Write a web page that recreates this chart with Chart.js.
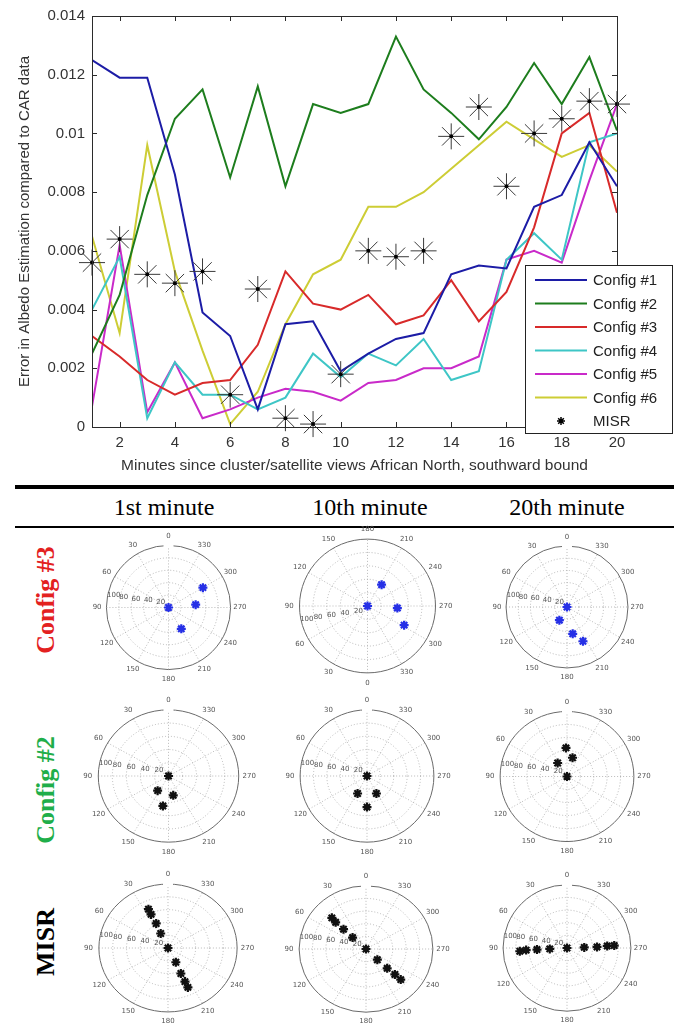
<!DOCTYPE html>
<html>
<head>
<meta charset="utf-8">
<script src="https://cdn.jsdelivr.net/npm/chart.js@4.4.0/dist/chart.umd.min.js"></script>
<style>
  body { margin: 0; background: #fff; }
  #page { position: relative; width: 674px; height: 1025px; overflow: hidden; background: #fff; }
  #errChart { position: absolute; left: 0; top: 0; }
  .rule { position: absolute; left: 15px; width: 659px; background: #000; }
  .head {
    position: absolute; top: 494px; line-height: 26px;
    font-family: "Liberation Serif", "Times New Roman", serif; font-size: 24px; color: #000;
    transform: translateX(-50%); white-space: nowrap;
  }
  .rowlab {
    position: absolute; white-space: nowrap;
    font-family: "Liberation Serif", "Times New Roman", serif; font-weight: bold; font-size: 26px;
    transform: translate(-50%, -50%) rotate(-90deg);
  }
  .polar { position: absolute; }
</style>
</head>
<body>
<div id="page">
  <canvas id="errChart" width="674" height="480"></canvas>

  <div class="rule" style="top:485px;height:4px"></div>
  <div class="head" style="left:164px">1st minute</div>
  <div class="head" style="left:370px">10th minute</div>
  <div class="head" style="left:567px">20th minute</div>
  <div class="rule" style="top:526px;height:2px"></div>

  <div class="rowlab" style="left:46px;top:600px;color:#e3211f">Config #3</div>
  <div class="rowlab" style="left:46px;top:790px;color:#1fae4a">Config #2</div>
  <div class="rowlab" style="left:46px;top:942px;color:#000">MISR</div>
</div>

<script>
// --- albedo error per minute ---
const minutes = [1, 2, 3, 4, 5, 6, 7, 8, 9, 10, 11, 12, 13, 14, 15, 16, 17, 18, 19, 20];
const config1 = [0.0125, 0.0119, 0.0119, 0.0086, 0.0039, 0.0031, 0.0006, 0.0035, 0.0036, 0.0019,
                 0.0025, 0.0030, 0.0032, 0.0052, 0.0055, 0.0054, 0.0075, 0.0079, 0.0097, 0.0082];
const config2 = [0.0025, 0.0045, 0.0079, 0.0105, 0.0115, 0.0085, 0.0116, 0.0082, 0.0110, 0.0107,
                 0.0110, 0.0133, 0.0115, 0.0107, 0.0098, 0.0109, 0.0124, 0.0110, 0.0126, 0.0101];
const config3 = [0.0031, 0.0024, 0.0016, 0.0011, 0.0015, 0.0016, 0.0028, 0.0053, 0.0042, 0.0040,
                 0.0045, 0.0035, 0.0038, 0.0050, 0.0036, 0.0046, 0.0068, 0.0100, 0.0107, 0.0073];
const config4 = [0.0040, 0.0058, 0.0003, 0.0022, 0.0011, 0.0011, 0.0006, 0.0010, 0.0025, 0.0017,
                 0.0025, 0.0021, 0.0030, 0.0016, 0.0019, 0.0057, 0.0066, 0.0057, 0.0097, 0.0100];
const config5 = [0.0007, 0.0062, 0.0005, 0.0022, 0.0003, 0.0006, 0.0010, 0.0013, 0.0012, 0.0009,
                 0.0015, 0.0016, 0.0020, 0.0020, 0.0024, 0.0057, 0.0060, 0.0056, 0.0084, 0.0110];
const config6 = [0.0065, 0.0032, 0.0096, 0.0053, 0.0026, 0.0001, 0.0012, 0.0035, 0.0052, 0.0057,
                 0.0075, 0.0075, 0.0080, 0.0088, 0.0096, 0.0104, 0.0098, 0.0092, 0.0096, 0.0087];
const misr    = [0.0056, 0.0064, 0.0052, 0.0049, 0.0053, 0.0011, 0.0047, 0.0003, 0.0001, 0.0018,
                 0.0060, 0.0058, 0.0060, 0.0099, 0.0109, 0.0082, 0.0100, 0.0105, 0.0111, 0.0110];

const seriesNames = ["Config #1", "Config #2", "Config #3", "Config #4", "Config #5", "Config #6"];
const seriesColors = ["#1c1ca6", "#1d7d1d", "#d82a2a", "#3ec6c6", "#c92ac9", "#cdcd35"];
const xTicks = [2, 4, 6, 8, 10, 12, 14, 16, 18, 20];
const yTicks = [0, 0.002, 0.004, 0.006, 0.008, 0.01, 0.012, 0.014];
const yTickLabels = ["0", "0.002", "0.004", "0.006", "0.008", "0.01", "0.012", "0.014"];

// --- view geometry: zenith (deg) and azimuth (deg) per camera ---
const c3m1Zen = [0, 64, 44, 40];          const c3m1Az = [0, 300, 276, 211];
const c3m10Zen = [0, 38, 44, 61];         const c3m10Az = [0, 213, 274, 298];
const c3m20Zen = [0, 25, 45, 62];         const c3m20Az = [0, 150, 192, 205];
const c2m1Zen = [0, 27, 30, 46];          const c2m1Az = [0, 145, 193, 170];
const c2m10Zen = [0, 30, 30, 47];         const c2m10Az = [0, 152, 208, 180];
const c2m20Zen = [0, 25, 44, 30];         const c2m20Az = [0, 34, 2, 344];
const misrM1Zen = [0, 25, 42, 58, 67, 25, 44, 58, 68];
const misrM1Az = [0, 25, 24, 25, 25, 207, 205, 205, 205];
const misrM10Zen = [0, 27, 46, 62, 71, 24, 44, 59, 71];
const misrM10Az = [0, 48, 47, 47, 46, 225, 226, 227, 227];
const misrM20Zen = [0, 27, 47, 64, 74, 27, 47, 63, 74];
const misrM20Az = [0, 93, 93, 93, 94, 272, 272, 273, 273];

const ringValues = [20, 40, 60, 80];
const radialLabels = ["20", "40", "60", "80", "100"];
const spokeAngles = [0, 30, 60, 90, 120, 150];
const angleLabels = ["0", "30", "60", "90", "120", "150", "180", "210", "240", "270", "300", "330"];

// --- main chart: frame with inward ticks ---
const matlabBox = {
  id: "matlabBox",
  afterDatasetsDraw(chart) {
    const { ctx, chartArea: a, scales: { x, y } } = chart;
    ctx.save();
    ctx.strokeStyle = "#2b2b2b";
    ctx.lineWidth = 1;
    ctx.strokeRect(a.left + 0.5, a.top + 0.5, a.right - a.left, a.bottom - a.top);
    ctx.beginPath();
    xTicks.forEach((v) => {
      const px = Math.round(x.getPixelForValue(v)) + 0.5;
      ctx.moveTo(px, a.bottom); ctx.lineTo(px, a.bottom - 5);
      ctx.moveTo(px, a.top); ctx.lineTo(px, a.top + 5);
    });
    yTicks.forEach((v) => {
      const py = Math.round(y.getPixelForValue(v)) + 0.5;
      ctx.moveTo(a.left, py); ctx.lineTo(a.left + 5, py);
      ctx.moveTo(a.right, py); ctx.lineTo(a.right - 5, py);
    });
    ctx.stroke();
    ctx.restore();
  },
};

// legend box sitting over the lower right corner
const legendBox = { left: 525, top: 265, width: 147, height: 168, rowStep: 23.5 };
const boxLegend = {
  id: "boxLegend",
  afterDraw(chart) {
    const { ctx } = chart;
    const b = legendBox;
    ctx.save();
    ctx.fillStyle = "#fff";
    ctx.fillRect(b.left, b.top, b.width, b.height);
    ctx.strokeStyle = "#222";
    ctx.lineWidth = 1;
    ctx.strokeRect(b.left + 0.5, b.top + 0.5, b.width, b.height);
    ctx.font = '15px "Liberation Sans", Arial, sans-serif';
    ctx.textBaseline = "middle";
    ctx.fillStyle = "#222";
    const items = chart.data.datasets.filter((d) => !d.legendSkip);
    items.forEach((d, i) => {
      const yy = b.top + 15 + i * b.rowStep;
      if (d.showLine === false) {
        ctx.strokeStyle = "#000";
        ctx.lineWidth = 1.5;
        Chart.helpers.drawPoint(ctx, { pointStyle: "star", radius: 4, borderWidth: 1.5 }, b.left + 36, yy);
      } else {
        ctx.strokeStyle = d.borderColor;
        ctx.lineWidth = 2;
        ctx.beginPath();
        ctx.moveTo(b.left + 10, yy);
        ctx.lineTo(b.left + 62, yy);
        ctx.stroke();
      }
      ctx.fillText(d.label, b.left + 68, yy + 1);
    });
    ctx.restore();
  },
};

const toPoints = (arr) => minutes.map((m, i) => ({ x: m, y: arr[i] }));
const configSeries = [config1, config2, config3, config4, config5, config6];

const lineSets = configSeries.map((arr, i) => ({
  label: seriesNames[i],
  data: toPoints(arr),
  borderColor: seriesColors[i],
  backgroundColor: seriesColors[i],
  borderWidth: 2,
  pointRadius: 0,
  tension: 0,
  order: 2,
}));

const axisFont = { family: '"Liberation Sans", Arial, sans-serif', size: 15 };

new Chart(document.getElementById("errChart"), {
  type: "line",
  data: {
    datasets: [
      ...lineSets,
      {
        label: "MISR",
        data: toPoints(misr),
        showLine: false,
        pointStyle: "star",
        pointRadius: 13,
        pointBorderColor: "#3a3a3a",
        pointBorderWidth: 1,
        clip: false,
        order: 1,
      },
      {
        label: "MISR centre",
        legendSkip: true,
        data: toPoints(misr),
        showLine: false,
        pointStyle: "circle",
        pointRadius: 2,
        pointBackgroundColor: "#000",
        pointBorderColor: "#000",
        pointBorderWidth: 0,
        clip: false,
        order: 0,
      },
    ],
  },
  options: {
    responsive: false,
    animation: false,
    layout: { padding: { left: 0, right: 57, top: 15, bottom: 0 } },
    plugins: { legend: { display: false }, tooltip: { enabled: false } },
    scales: {
      x: {
        type: "linear",
        min: 1,
        max: 20,
        afterBuildTicks: (s) => { s.ticks = xTicks.map((v) => ({ value: v })); },
        afterFit: (s) => { s.height = 53; },
        grid: { display: false, drawTicks: false },
        border: { display: false },
        ticks: { font: axisFont, color: "#333", padding: 7, maxRotation: 0 },
        title: {
          display: true,
          text: "Minutes since cluster/satellite views African North, southward bound",
          font: { family: axisFont.family, size: 15.5 },
          color: "#333",
          padding: { top: 0, bottom: 5 },
        },
      },
      y: {
        min: 0,
        max: 0.014,
        afterBuildTicks: (s) => { s.ticks = yTicks.map((v) => ({ value: v })); },
        afterFit: (s) => { s.width = 92; },
        grid: { display: false, drawTicks: false },
        border: { display: false },
        ticks: { font: axisFont, color: "#333", padding: 7, callback: (v, i) => yTickLabels[i] },
        title: {
          display: true,
          text: "Error in Albedo Estimation compared to CAR data",
          font: axisFont,
          color: "#333",
          padding: { top: 16, bottom: 0 },
        },
      },
    },
  },
  plugins: [matlabBox, boxLegend],
});

// --- polar view panels ---
const polarGrid = {
  id: "polarGrid",
  beforeDatasetsDraw(chart, args, opts) {
    const { ctx } = chart;
    const xs = chart.scales.x, ys = chart.scales.y;
    const cx = xs.getPixelForValue(0), cy = ys.getPixelForValue(0);
    const kx = (xs.getPixelForValue(100) - cx) / 100;
    const ky = (cy - ys.getPixelForValue(100)) / 100;
    const flip = opts.flip ? -1 : 1;
    const at = (r, deg) => {
      const a = (deg * Math.PI) / 180;
      return [cx - r * Math.sin(a) * kx, cy - flip * r * Math.cos(a) * ky];
    };
    ctx.save();
    ctx.strokeStyle = "#a8a8a8";
    ctx.lineWidth = 0.8;
    ctx.setLineDash([1, 2]);
    ringValues.forEach((r) => {
      ctx.beginPath();
      ctx.ellipse(cx, cy, r * kx, r * ky, 0, 0, Math.PI * 2);
      ctx.stroke();
    });
    spokeAngles.forEach((d) => {
      const [x1, y1] = at(100, d);
      const [x2, y2] = at(100, d + 180);
      ctx.beginPath();
      ctx.moveTo(x1, y1);
      ctx.lineTo(x2, y2);
      ctx.stroke();
    });
    ctx.setLineDash([]);
    ctx.strokeStyle = "#6a6a6a";
    ctx.lineWidth = 1;
    ctx.beginPath();
    ctx.ellipse(cx, cy, 100 * kx, 100 * ky, 0, 0, Math.PI * 2);
    ctx.stroke();
    if (!opts.flip) {
      // the "0" label cuts the outer ring
      ctx.fillStyle = "#fff";
      ctx.fillRect(cx - 5, cy - 100 * ky - 2, 10, 4);
    }
    ctx.fillStyle = "#555";
    ctx.font = '7px "DejaVu Sans", sans-serif';
    ctx.textAlign = "center";
    ctx.textBaseline = "middle";
    angleLabels.forEach((t, i) => {
      const [lx, ly] = at(115, i * 30);
      ctx.fillText(t, lx, ly);
    });
    ctx.textAlign = "left";
    ctx.textBaseline = opts.flip ? "top" : "bottom";
    radialLabels.forEach((t, i) => {
      const [lx, ly] = at((i + 1) * 20, 82);
      ctx.fillText(t, lx, ly);
    });
    ctx.restore();
  },
};

const panels = [
  { zen: c3m1Zen, az: c3m1Az, color: "#2630e6", cx: 168, cy: 607, rx: 67, ry: 67 },
  { zen: c3m10Zen, az: c3m10Az, color: "#2630e6", cx: 367, cy: 606, rx: 73, ry: 72, flip: true },
  { zen: c3m20Zen, az: c3m20Az, color: "#2630e6", cx: 567, cy: 607, rx: 66, ry: 66 },
  { zen: c2m1Zen, az: c2m1Az, color: "#111", cx: 168, cy: 776, rx: 75, ry: 71 },
  { zen: c2m10Zen, az: c2m10Az, color: "#111", cx: 367, cy: 776, rx: 72, ry: 71 },
  { zen: c2m20Zen, az: c2m20Az, color: "#111", cx: 567, cy: 776, rx: 72, ry: 70 },
  { zen: misrM1Zen, az: misrM1Az, color: "#111", cx: 168, cy: 948, rx: 74, ry: 69 },
  { zen: misrM10Zen, az: misrM10Az, color: "#111", cx: 366, cy: 949, rx: 72, ry: 68 },
  { zen: misrM20Zen, az: misrM20Az, color: "#111", cx: 567, cy: 948, rx: 69, ry: 68 },
];

const span = 135; // axis half-range, leaves room for the angle labels
const page = document.getElementById("page");

panels.forEach((p) => {
  const w = Math.round((2 * span * p.rx) / 100);
  const h = Math.round((2 * span * p.ry) / 100);
  const cv = document.createElement("canvas");
  cv.className = "polar";
  cv.width = w;
  cv.height = h;
  cv.style.left = Math.round(p.cx - w / 2) + "px";
  cv.style.top = Math.round(p.cy - h / 2) + "px";
  page.appendChild(cv);

  const flip = p.flip ? -1 : 1;
  const pts = p.zen.map((r, i) => {
    const a = (p.az[i] * Math.PI) / 180;
    return { x: -r * Math.sin(a), y: flip * r * Math.cos(a) };
  });

  new Chart(cv, {
    type: "scatter",
    data: {
      datasets: [{
        data: pts,
        pointStyle: "star",
        pointRadius: 4.5,
        pointBorderWidth: 2.2,
        pointBorderColor: p.color,
        pointBackgroundColor: p.color,
      }],
    },
    options: {
      responsive: false,
      animation: false,
      layout: { padding: 0 },
      plugins: { legend: { display: false }, tooltip: { enabled: false }, polarGrid: { flip: !!p.flip } },
      scales: {
        x: { min: -span, max: span, display: false },
        y: { min: -span, max: span, display: false },
      },
    },
    plugins: [polarGrid],
  });
});
</script>
</body>
</html>
